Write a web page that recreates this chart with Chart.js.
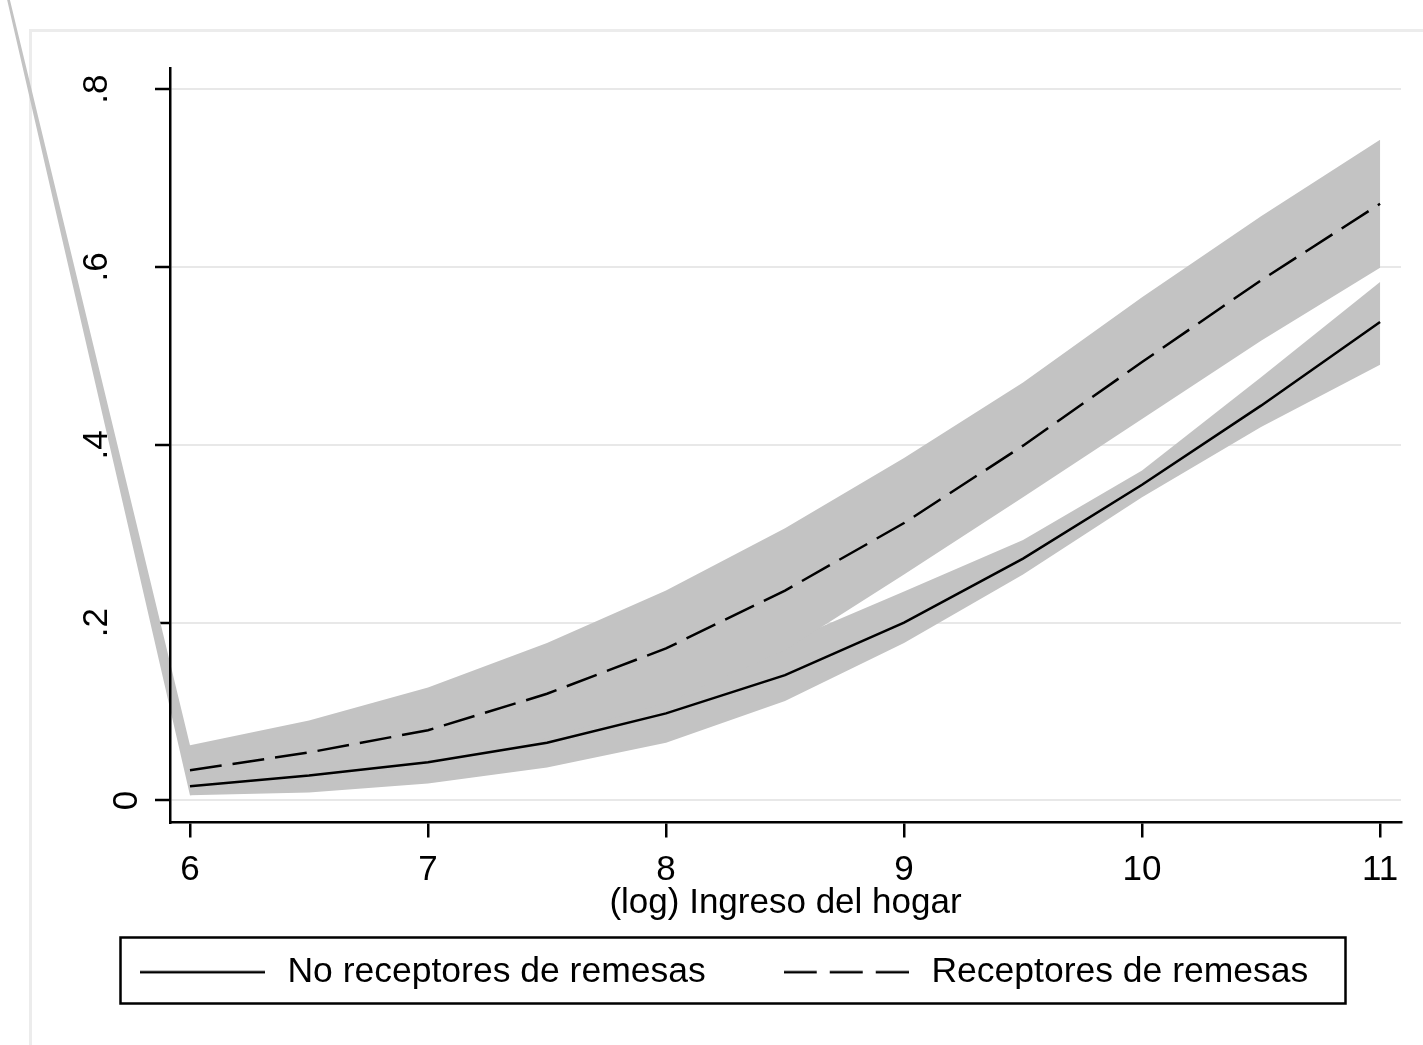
<!DOCTYPE html>
<html><head><meta charset="utf-8">
<script src="https://cdn.jsdelivr.net/npm/chart.js@4.4.1/dist/chart.umd.min.js"></script>
<style>html,body{margin:0;padding:0;background:#fff;}#wrap{width:1423px;height:1045px;}</style>
</head><body><div id="wrap"><canvas id="c" width="1423" height="1045"></canvas></div>
<script>
// ---- data ----
const xValues = [6, 6.5, 7, 7.5, 8, 8.5, 9, 9.5, 10, 10.5, 11];
const noReceptores     = [0.016, 0.028, 0.043, 0.065, 0.098, 0.141, 0.200, 0.272, 0.355, 0.444, 0.538];
const noReceptoresLow  = [0.006, 0.009, 0.019, 0.037, 0.065, 0.112, 0.177, 0.254, 0.341, 0.420, 0.490];
const noReceptoresHigh = [0.027, 0.042, 0.066, 0.094, 0.130, 0.178, 0.235, 0.293, 0.371, 0.476, 0.583];
const receptores       = [0.034, 0.054, 0.079, 0.120, 0.171, 0.236, 0.312, 0.399, 0.493, 0.585, 0.671];
const receptoresBandX  = [5, 6, 6.5, 7, 7.5, 8, 8.5, 9, 9.5, 10, 10.5, 11];
const receptoresLow    = [1.17, 0.006, 0.020, 0.040, 0.070, 0.110, 0.169, 0.254, 0.341, 0.429, 0.517, 0.599];
const receptoresHigh   = [1.17, 0.062, 0.090, 0.127, 0.177, 0.236, 0.306, 0.385, 0.470, 0.566, 0.657, 0.743];
const xTicks = [6, 7, 8, 9, 10, 11];
const yTicks = [0, 0.2, 0.4, 0.6, 0.8];
const yTickLabels = ['0', '.2', '.4', '.6', '.8'];
const seriesLabels = ['No receptores de remesas', 'Receptores de remesas'];
const xTitle = '(log) Ingreso del hogar';

const FAMILY = "'Liberation Sans', Arial, Helvetica, sans-serif";
Chart.defaults.font.family = FAMILY;
Chart.defaults.font.size = 35;
Chart.defaults.color = '#000';

const FONT = {family: FAMILY, size: 35};
const LEGEND_FONT = {family: FAMILY, size: 35.5};
const BAND_COLOR = '#c3c3c3';
const DASH = [32, 11];

// legend line samples (solid / dashed)
function lineSample(dash) {
  const c = document.createElement('canvas');
  c.width = 125; c.height = 4;
  const g = c.getContext('2d');
  g.strokeStyle = '#000';
  g.lineWidth = 2.5;
  g.setLineDash(dash);
  g.beginPath(); g.moveTo(0, 2); g.lineTo(125, 2); g.stroke();
  return c;
}
const solidSample = lineSample([]);
const dashedSample = lineSample([33, 13]);

const framePlugin = {
  id: 'frame',
  beforeDraw(chart) {
    const ctx = chart.ctx;
    ctx.save();
    ctx.fillStyle = '#fff';
    ctx.fillRect(0, 0, chart.width, chart.height);
    ctx.strokeStyle = '#ececec';
    ctx.lineWidth = 3;
    ctx.beginPath();
    ctx.moveTo(30.5, chart.height + 5);
    ctx.lineTo(30.5, 30.5);
    ctx.lineTo(chart.width + 5, 30.5);
    ctx.stroke();
    ctx.restore();
  }
};

const bandPlugin = {
  id: 'bands',
  beforeDatasetsDraw(chart) {
    const {ctx, scales: {x, y}} = chart;
    const bands = [
      [xValues, noReceptoresLow, noReceptoresHigh],
      [receptoresBandX, receptoresLow, receptoresHigh]
    ];
    ctx.save();
    ctx.fillStyle = BAND_COLOR;
    bands.forEach(([xs, lo, hi]) => {
      ctx.beginPath();
      xs.forEach((v, i) => {
        const px = x.getPixelForValue(v), py = y.getPixelForValue(hi[i]);
        if (i === 0) ctx.moveTo(px, py); else ctx.lineTo(px, py);
      });
      for (let i = xs.length - 1; i >= 0; i--) {
        ctx.lineTo(x.getPixelForValue(xs[i]), y.getPixelForValue(lo[i]));
      }
      ctx.closePath();
      ctx.fill();
    });
    ctx.restore();
  }
};

const legendBoxPlugin = {
  id: 'legendBox',
  afterDraw(chart) {
    const lg = chart.legend;
    if (!lg || !lg.legendHitBoxes || !lg.legendHitBoxes.length) return;
    const hb = lg.legendHitBoxes;
    let l = Infinity, r = -Infinity, cy = 0;
    hb.forEach(h => { l = Math.min(l, h.left); r = Math.max(r, h.left + h.width); cy = h.top + h.height / 2; });
    const ctx = chart.ctx;
    ctx.save();
    ctx.strokeStyle = '#000';
    ctx.lineWidth = 2.5;
    ctx.strokeRect(Math.round(l - 15) + 0.5, Math.round(cy - 35) + 0.5, Math.round(r - l + 51), 66);
    ctx.restore();
  }
};

new Chart(document.getElementById('c'), {
  type: 'line',
  data: {
    datasets: [
      {
        label: seriesLabels[0],
        data: xValues.map((v, i) => ({x: v, y: noReceptores[i]})),
        borderColor: '#000', backgroundColor: '#000', borderWidth: 2.5,
        pointRadius: 0, pointStyle: solidSample, fill: false, tension: 0
      },
      {
        label: seriesLabels[1],
        data: xValues.map((v, i) => ({x: v, y: receptores[i]})),
        borderColor: '#000', backgroundColor: '#000', borderWidth: 2.5, borderDash: DASH,
        pointRadius: 0, pointStyle: dashedSample, fill: false, tension: 0
      }
    ]
  },
  options: {
    responsive: false,
    devicePixelRatio: 1,
    animation: false,
    layout: {padding: {top: 68, left: 42, right: 22, bottom: 45}},
    plugins: {
      legend: {
        position: 'bottom',
        labels: {
          usePointStyle: true, pointStyleWidth: 135,
          padding: 73, font: LEGEND_FONT, color: '#000'
        }
      },
      tooltip: {enabled: false}
    },
    scales: {
      x: {
        type: 'linear', min: 5.916, max: 11.088,
        afterBuildTicks: s => { s.ticks = xTicks.map(v => ({value: v})); },
        afterFit: s => { s.height = 59; },
        ticks: {font: FONT, color: '#000', padding: 12, maxRotation: 0, z: 1, callback: v => String(v)},
        grid: {drawOnChartArea: false, drawTicks: true, tickLength: 15, tickColor: '#000', tickWidth: 2.5, lineWidth: 2.5, color: '#000'},
        border: {color: '#000', width: 2.5, z: 1},
        title: {display: true, text: xTitle, font: FONT, color: '#000', padding: {top: 0, bottom: -43}}
      },
      y: {
        type: 'linear', min: -0.02475, max: 0.8237,
        afterBuildTicks: s => { s.ticks = yTicks.map(v => ({value: v})); },
        afterFit: s => { s.width = 128; },
        ticks: {
          color: '#000', minRotation: 90, maxRotation: 90, crossAlign: 'center', padding: 43, z: 1,
          font: c => (c.index === 0 ? {family: FAMILY, size: 35, lineHeight: 60 / 35} : FONT),
          callback: (v, i) => (i === 0 ? ['', yTickLabels[i]] : yTickLabels[i])
        },
        grid: {color: '#e8e8e8', lineWidth: 2, tickColor: '#000', tickLength: 15, tickWidth: 2.5},
        border: {color: '#000', width: 2.5, z: 1}
      }
    }
  },
  plugins: [framePlugin, bandPlugin, legendBoxPlugin]
});
</script>
</body></html>
